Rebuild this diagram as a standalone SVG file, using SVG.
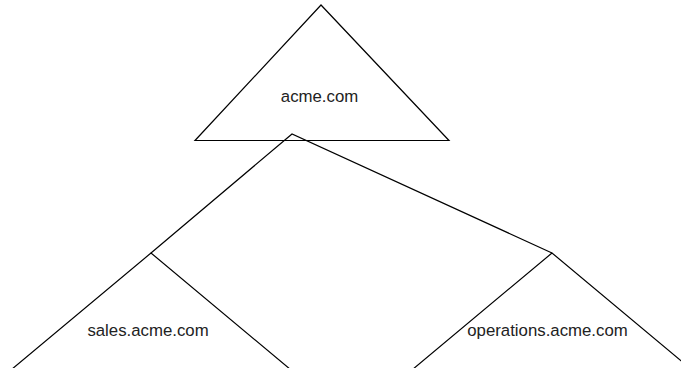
<svg xmlns="http://www.w3.org/2000/svg" width="681" height="368" viewBox="0 0 681 368">
<style>
.shape{fill:none;stroke:#000;stroke-width:1.2;stroke-linejoin:miter}
.edge{fill:none;stroke:#000;stroke-width:1.2}
.label{font-family:"Liberation Sans",Arial,sans-serif;font-size:16.8px;fill:#222;text-anchor:middle}
</style>
<rect width="681" height="368" fill="#fff"/>
<g id="connectors">
<polyline class="edge" points="151,253 292,134 552,253"/>
</g>
<g id="node-acme">
<polygon class="shape" points="321,5 195,140.5 449,140.5"/>
<text class="label" x="319.5" y="102">acme.com</text>
</g>
<g id="node-sales">
<polygon class="shape" points="151,253 -25,400 327,400"/>
<text class="label" x="148" y="336">sales.acme.com</text>
</g>
<g id="node-operations">
<polygon class="shape" points="552,253 376,400 728,400"/>
<text class="label" x="547.5" y="336">operations.acme.com</text>
</g>
</svg>
